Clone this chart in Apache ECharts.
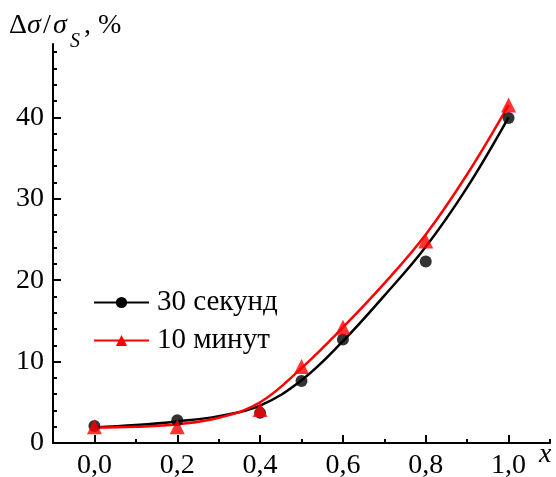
<!DOCTYPE html>
<html>
<head>
<meta charset="utf-8">
<script src="https://cdn.jsdelivr.net/npm/echarts@6/dist/echarts.min.js"></script>
<style>
html,body{margin:0;padding:0;background:#fff;}
#chart{width:556px;height:477px;}
</style>
</head>
<body>
<div id="chart"></div>
<script>
// Measured points
var xPoints = [0, 0.2, 0.4, 0.5, 0.6, 0.8, 1.0];
var sec30 = [2.1, 2.8, 3.7, 7.6, 12.7, 22.3, 39.9];
var min10 = [2.0, 2.0, 4.1, 9.4, 14.2, 24.8, 41.5];
// Fitted curves
var xFit = [0, 0.1, 0.2, 0.3, 0.4, 0.5, 0.6, 0.7, 0.8, 0.9, 1.0];
var sec30Fit = [1.9, 2.2, 2.65, 3.3, 4.6, 7.7, 12.5, 18.1, 24.1, 31.4, 40.0];
var min10Fit = [1.9, 2.0, 2.3, 3.1, 5.0, 9.2, 14.2, 19.6, 25.6, 33.0, 41.5];
// Tick labels
var xMajor = [0, 0.2, 0.4, 0.6, 0.8, 1.0];
var xMinor = [-0.1, 0.1, 0.3, 0.5, 0.7, 0.9, 1.1];
var yMajor = [0, 10, 20, 30, 40];
var yMinor = [2, 4, 6, 8, 12, 14, 16, 18, 22, 24, 26, 28, 32, 34, 36, 38, 42, 44, 46, 48];
var names = ['30 секунд', '10 минут'];

var FONT = "'Times New Roman', 'Liberation Serif', 'DejaVu Serif', serif";
function pairs(xs, ys){ return xs.map(function(x,i){ return [x, ys[i]]; }); }

var chart = echarts.init(document.getElementById('chart'), null, {renderer:'canvas'});
var axisLine = {show:true, onZero:false, lineStyle:{color:'#000', width:2}};
var option = {
  animation:false,
  backgroundColor:'#fff',
  textStyle:{fontFamily:FONT},
  grid:{left:53, right:6, top:44, bottom:34, containLabel:false, outerBoundsMode:'none'},
  legend:{
    data:names, left:93, top:288, orient:'vertical', itemGap:9, padding:0,
    itemWidth:55, itemHeight:14,
    textStyle:{fontFamily:FONT, fontSize:29, color:'#000', padding:[0,0,0,3]}
  },
  xAxis:[
    {type:'value', min:-0.1, max:1.1, position:'bottom',
     axisLine:axisLine,
     axisTick:{show:true, inside:true, length:8, customValues:xMajor, lineStyle:{color:'#000', width:2}},
     axisLabel:{show:true, customValues:xMajor, margin:9, fontFamily:FONT, fontSize:28, color:'#000',
       formatter:function(v){ return v.toFixed(1).replace('.', ','); }},
     splitLine:{show:false}},
    {type:'value', min:-0.1, max:1.1, position:'bottom',
     axisLine:{show:false, onZero:false},
     axisTick:{show:true, inside:true, length:4, customValues:xMinor, lineStyle:{color:'#000', width:2}},
     axisLabel:{show:false}, splitLine:{show:false}}
  ],
  yAxis:[
    {type:'value', min:0, max:49, position:'left',
     axisLine:axisLine,
     axisTick:{show:true, inside:true, length:8, customValues:yMajor, lineStyle:{color:'#000', width:2}},
     axisLabel:{show:true, customValues:yMajor, margin:9, fontFamily:FONT, fontSize:28, color:'#000'},
     splitLine:{show:false}},
    {type:'value', min:0, max:49, position:'left', offset:0,
     axisLine:{show:false, onZero:false},
     axisTick:{show:true, inside:true, length:4, customValues:yMinor, lineStyle:{color:'#000', width:2}},
     axisLabel:{show:false}, splitLine:{show:false}}
  ],
  series:[
    {name:names[0], type:'line', data:pairs(xFit, sec30Fit), smooth:0.4, showSymbol:false,
     symbol:'circle', symbolSize:9, color:'#000', itemStyle:{color:'#000'},
     lineStyle:{color:'#000', width:2.5}, z:2},
    {name:names[1], type:'line', data:pairs(xFit, min10Fit), smooth:0.4, showSymbol:false,
     symbol:'triangle', symbolSize:12, color:'#ff0000', itemStyle:{color:'#ff0000'},
     lineStyle:{color:'#ff0000', width:2.5}, z:3},
    {name:'pts30', type:'scatter', data:pairs(xPoints, sec30), symbol:'circle', symbolSize:12,
     itemStyle:{color:'#000'}, z:4},
    {name:'pts10', type:'scatter', data:pairs(xPoints, min10), symbol:'triangle', symbolSize:15,
     itemStyle:{color:'#ff0000'}, z:5}
  ],
  graphic:[
    {type:'text', left:9, top:12, style:{text:'\u0394', font:'28px ' + FONT, fill:'#000'}},
    {type:'text', left:27, top:12, style:{text:'\u03c3', font:'italic 28px ' + FONT, fill:'#000'}},
    {type:'text', left:43, top:12, style:{text:'/', font:'28px ' + FONT, fill:'#000'}},
    {type:'text', left:53, top:12, style:{text:'\u03c3', font:'italic 28px ' + FONT, fill:'#000'}},
    {type:'text', left:70, top:32, style:{text:'S', font:'italic 20px ' + FONT, fill:'#000'}},
    {type:'text', left:84, top:12, style:{text:', %', font:'28px ' + FONT, fill:'#000'}},
    {type:'text', left:539, top:441, style:{text:'x', font:'italic 28px ' + FONT, fill:'#000'}}
  ]
};
chart.setOption(option);
</script>
</body>
</html>
